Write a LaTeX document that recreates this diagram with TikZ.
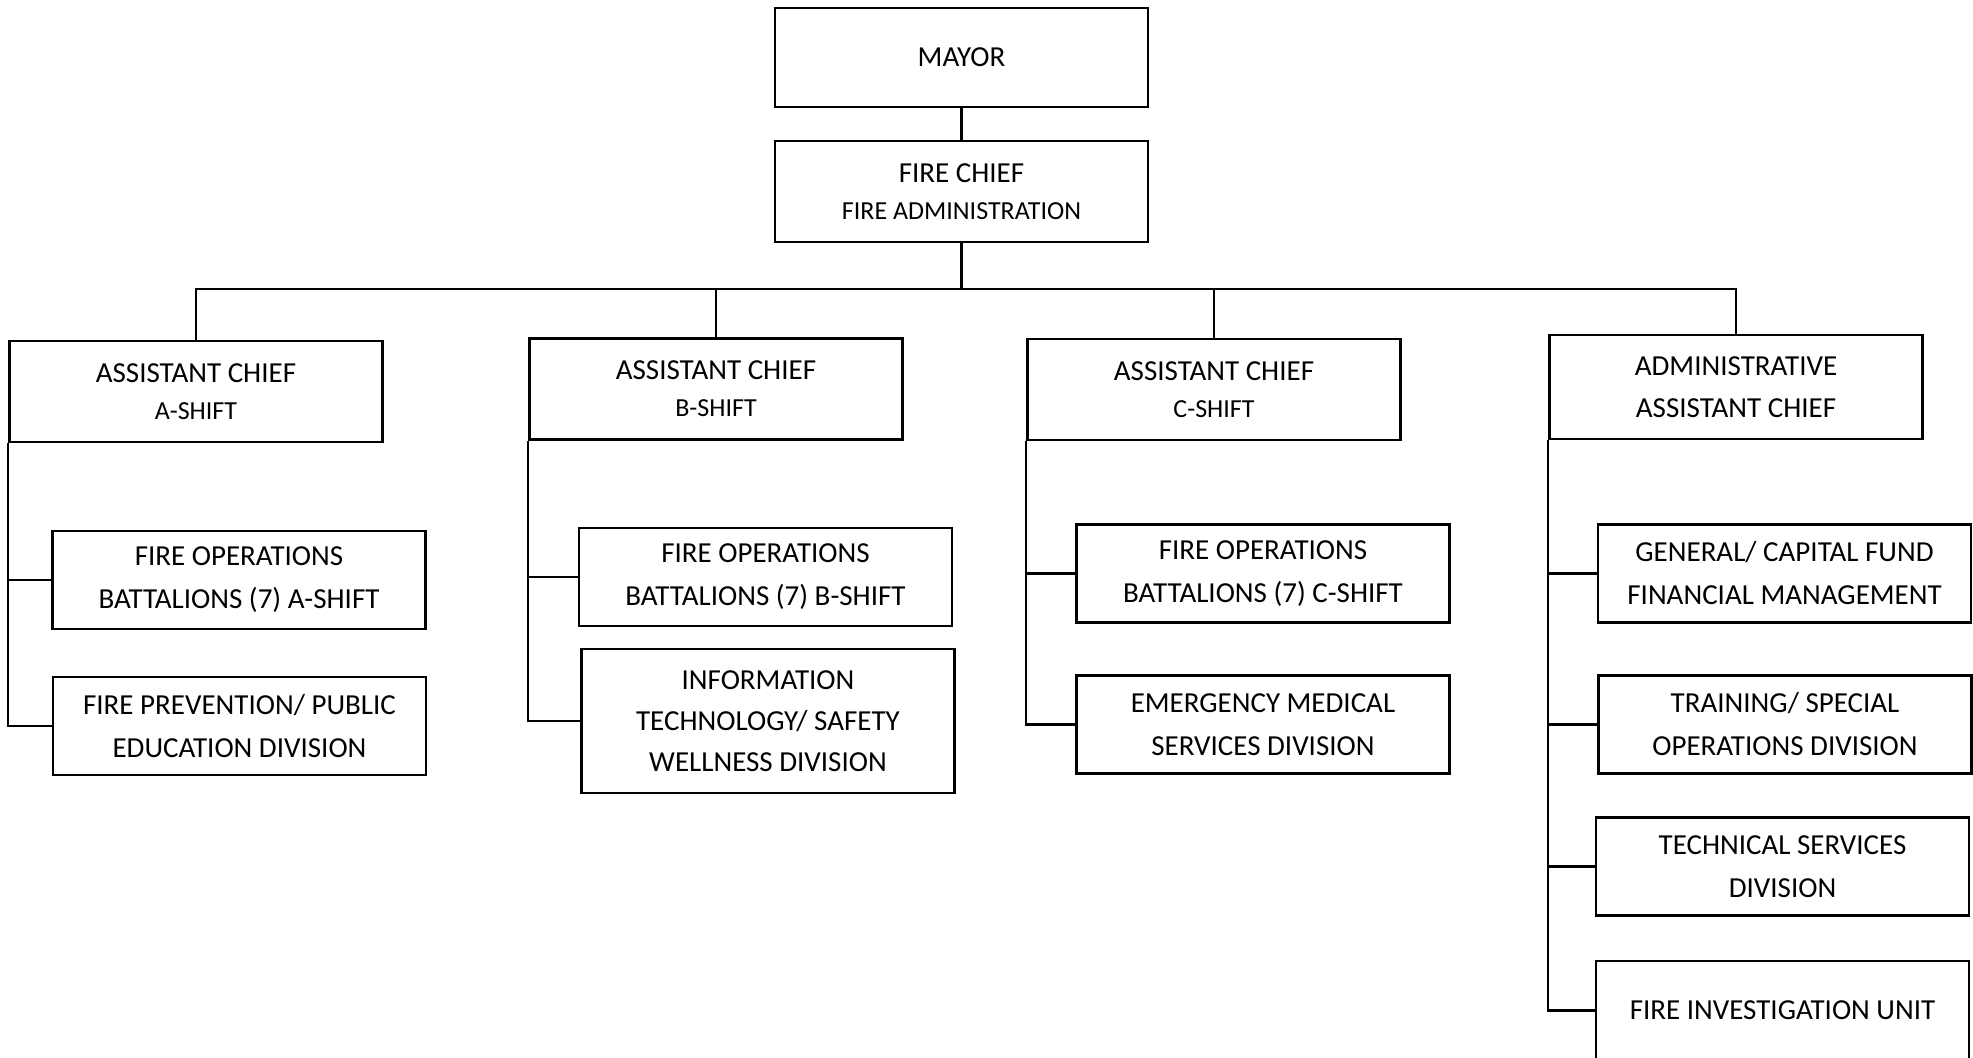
\documentclass[tikz,border=0pt]{standalone}
\usepackage{fontspec}
\setmainfont{Carlito}
\usetikzlibrary{positioning,calc}
\newcommand{\subline}[1]{{\fontsize{13}{18.5}\selectfont #1}}

\begin{document}
\begin{tikzpicture}[x=0.5pt, y=-0.5pt,
        unit/.style={draw, line width=1.2pt, align=center, inner sep=0pt,
                     minimum width=186.5pt, minimum height=49pt,
                     font=\fontsize{14.5}{21.5}\selectfont},
        head/.style={unit, minimum height=50.5pt,
                     font=\fontsize{14.5}{18.5}\selectfont},
        link/.style={line width=1.1pt}]
        \useasboundingbox (0,0) rectangle (1973,1058);
        % Mayor and fire chief
        \node [head, minimum height=49.5pt] (mayor) at (961.5,57.5) {MAYOR};
        \node [head] (chief) at (961.5,191.5) {FIRE CHIEF\\\subline{FIRE ADMINISTRATION}};
        % Assistant chiefs
        \node [head] (asA) at (196,391.5) {ASSISTANT CHIEF\\\subline{A-SHIFT}};
        \node [head] (asB) at (716,389) {ASSISTANT CHIEF\\\subline{B-SHIFT}};
        \node [head] (asC) at (1214,389.5) {ASSISTANT CHIEF\\\subline{C-SHIFT}};
        \node [unit, minimum height=52pt, font=\fontsize{14.5}{21}\selectfont]
            (adm) at (1736,387) {ADMINISTRATIVE\\ASSISTANT CHIEF};
        % A-shift units
        \node [unit] (opsA) at (239,580) {FIRE OPERATIONS\\BATTALIONS (7) A-SHIFT};
        \node [unit] (prevA) at (239.5,726) {FIRE PREVENTION/ PUBLIC\\EDUCATION DIVISION};
        % B-shift units
        \node [unit] (opsB) at (765.5,577) {FIRE OPERATIONS\\BATTALIONS (7) B-SHIFT};
        \node [unit, minimum height=72pt, font=\fontsize{14.5}{20.5}\selectfont]
            (itB) at (768,721) {INFORMATION\\TECHNOLOGY/ SAFETY\\WELLNESS DIVISION};
        % C-shift units
        \node [unit] (opsC) at (1263,573.5) {FIRE OPERATIONS\\BATTALIONS (7) C-SHIFT};
        \node [unit] (emsC) at (1263,724.5) {EMERGENCY MEDICAL\\SERVICES DIVISION};
        % Administrative units
        \node [unit] (fund) at (1784.5,573.5) {GENERAL/ CAPITAL FUND\\FINANCIAL MANAGEMENT};
        \node [unit] (train) at (1785,724.5) {TRAINING/ SPECIAL\\OPERATIONS DIVISION};
        \node [unit] (tech) at (1782.5,866.5) {TECHNICAL SERVICES\\DIVISION};
        \node [unit, minimum height=49.5pt] (invest) at (1782.5,1010.5) {FIRE INVESTIGATION UNIT};
        % Top lines and bus
        \coordinate (bus) at ($(chief.south)+(0,46)$);
        \draw [link] (mayor) -- (chief);
        \draw [link] (chief.south) -- (bus);
        \draw [link] (asA.north) |- (bus) -| (adm.north);
        \draw [link] (asB.north) -- (asB.north |- bus);
        \draw [link] (asC.north) -- (asC.north |- bus);
        % Spines down the left side of each column
        \draw [link] (asA.south west) |- (prevA.west);
        \draw [link] (asB.south west) |- (itB.west);
        \draw [link] (asC.south west) |- (emsC.west);
        \draw [link] (adm.south west) |- (invest.west);
        % Branches
        \draw [link] (opsA.west) -- (opsA.west -| asA.south west);
        \draw [link] (opsB.west) -- (opsB.west -| asB.south west);
        \draw [link] (opsC.west) -- (opsC.west -| asC.south west);
        \foreach \u in {fund,train,tech}
            \draw [link] (\u.west) -- (\u.west -| adm.south west);
\end{tikzpicture}
\end{document}
